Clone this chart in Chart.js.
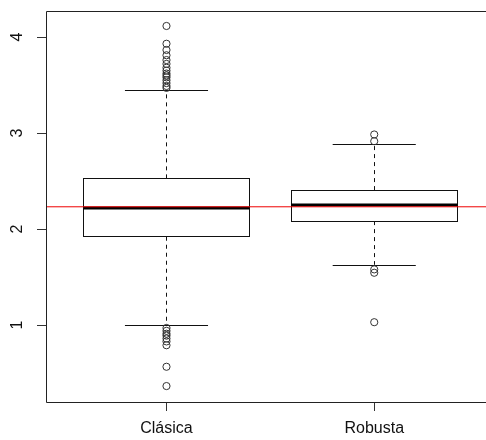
<!DOCTYPE html>
<html>
<head>
<meta charset="utf-8">
<script src="https://cdn.jsdelivr.net/npm/chart.js@4.4.1/dist/chart.umd.min.js"></script>
<style>
  html, body { margin: 0; padding: 0; background: #fff; overflow: hidden; }
  #wrap { width: 486px; height: 440px; overflow: hidden; }
  canvas { display: block; }
</style>
</head>
<body>
<div id="wrap"><canvas id="c" width="486" height="440"></canvas></div>
<script>
// Box summaries for the two estimators
const categories   = ['Clásica', 'Robusta'];
const whiskerLow   = [1.00, 1.628];
const quartile1    = [1.92, 2.083];
const medians      = [2.219, 2.25];
const quartile3    = [2.528, 2.406];
const whiskerHigh  = [3.445, 2.885];
const outliersClasica = [4.115, 3.93, 3.865, 3.81, 3.76, 3.72, 3.68, 3.65, 3.62, 3.60, 3.58, 3.55, 3.52, 3.49, 3.47,
                         0.97, 0.94, 0.91, 0.89, 0.86, 0.83, 0.79, 0.566, 0.365];
const outliersRobusta = [2.985, 2.915, 1.58, 1.545, 1.03];
const referenceValue = 2.232;
const yTicks = [1, 2, 3, 4];
const xRange = [0.42, 2.538];
const yRange = [0.199, 4.271];

const FONT = '"Liberation Sans", Arial, Helvetica, sans-serif';

const outlierPoints = [];
outliersClasica.forEach(v => outlierPoints.push({ x: 1, y: v }));
outliersRobusta.forEach(v => outlierPoints.push({ x: 2, y: v }));

const boxPlugin = {
  id: 'boxes',
  beforeDatasetsDraw(chart) {
    const { ctx, scales: { x, y } } = chart;
    ctx.save();
    categories.forEach((name, i) => {
      const pos = i + 1;
      const xl = x.getPixelForValue(pos - 0.4);
      const xr = x.getPixelForValue(pos + 0.4);
      const xc = x.getPixelForValue(pos);
      const cl = x.getPixelForValue(pos - 0.2);
      const cr = x.getPixelForValue(pos + 0.2);
      const yq1 = y.getPixelForValue(quartile1[i]);
      const yq3 = y.getPixelForValue(quartile3[i]);
      const ymed = y.getPixelForValue(medians[i]);
      const ylo = y.getPixelForValue(whiskerLow[i]);
      const yhi = y.getPixelForValue(whiskerHigh[i]);

      // dashed whiskers
      ctx.strokeStyle = '#111';
      ctx.lineWidth = 1;
      ctx.setLineDash([4, 4]);
      ctx.beginPath();
      ctx.moveTo(Math.round(xc) + 0.5, yq3);
      ctx.lineTo(Math.round(xc) + 0.5, yhi);
      ctx.moveTo(Math.round(xc) + 0.5, yq1);
      ctx.lineTo(Math.round(xc) + 0.5, ylo);
      ctx.stroke();
      ctx.setLineDash([]);

      // whisker caps
      ctx.beginPath();
      ctx.moveTo(cl, Math.round(yhi) + 0.5);
      ctx.lineTo(cr, Math.round(yhi) + 0.5);
      ctx.moveTo(cl, Math.round(ylo) + 0.5);
      ctx.lineTo(cr, Math.round(ylo) + 0.5);
      ctx.stroke();

      // box
      ctx.fillStyle = '#fff';
      ctx.fillRect(xl, yq3, xr - xl, yq1 - yq3);
      ctx.strokeStyle = '#111';
      ctx.strokeRect(Math.round(xl) + 0.5, Math.round(yq3) + 0.5, Math.round(xr - xl), Math.round(yq1 - yq3));

      // median
      ctx.lineWidth = 3;
      ctx.strokeStyle = '#000';
      ctx.beginPath();
      ctx.moveTo(xl, ymed);
      ctx.lineTo(xr, ymed);
      ctx.stroke();
    });
    ctx.restore();
  },
  afterDraw(chart) {
    const { ctx, scales: { y }, chartArea } = chart;
    ctx.save();
    // plot frame
    ctx.strokeStyle = '#222';
    ctx.lineWidth = 1;
    ctx.beginPath();
    ctx.moveTo(chartArea.right + 2, Math.round(chartArea.top) + 0.5);
    ctx.lineTo(Math.round(chartArea.left) + 0.5, Math.round(chartArea.top) + 0.5);
    ctx.lineTo(Math.round(chartArea.left) + 0.5, Math.round(chartArea.bottom) + 0.5);
    ctx.lineTo(chartArea.right + 2, Math.round(chartArea.bottom) + 0.5);
    ctx.stroke();
    // rotated y tick labels
    ctx.fillStyle = '#111';
    ctx.font = '16px ' + FONT;
    ctx.textAlign = 'center';
    ctx.textBaseline = 'middle';
    yTicks.forEach(v => {
      const py = y.getPixelForValue(v);
      ctx.save();
      ctx.translate(18, py);
      ctx.rotate(-Math.PI / 2);
      ctx.fillText(String(v), 0, 0);
      ctx.restore();
    });
    ctx.restore();
  }
};

new Chart(document.getElementById('c'), {
  type: 'scatter',
  data: {
    datasets: [{
      label: 'outliers',
      data: outlierPoints,
      pointStyle: 'circle',
      pointRadius: 3.6,
      pointHoverRadius: 3.6,
      pointBorderWidth: 1,
      borderColor: '#333',
      backgroundColor: 'rgba(0,0,0,0)',
      order: 1
    }, {
      // horizontal reference level across the plot
      type: 'line',
      label: 'reference',
      data: [{ x: xRange[0], y: referenceValue }, { x: xRange[1], y: referenceValue }],
      borderColor: '#ee0000',
      borderWidth: 1,
      pointRadius: 0,
      fill: false,
      order: 0
    }]
  },
  options: {
    responsive: false,
    animation: false,
    events: [],
    layout: { autoPadding: false, padding: { top: 11, right: 0, left: 0, bottom: 0 } },
    plugins: { legend: { display: false }, tooltip: { enabled: false } },
    scales: {
      x: {
        type: 'linear',
        min: xRange[0],
        max: xRange[1],
        afterBuildTicks: s => { s.ticks = categories.map((_, i) => ({ value: i + 1 })); },
        afterFit: s => { s.height = 38; s.paddingLeft = 0; s.paddingRight = 0; },
        border: { display: false },
        grid: { display: true, drawOnChartArea: false, drawTicks: true, tickLength: 9, color: '#333' },
        ticks: {
          callback: v => categories[v - 1],
          color: '#111',
          font: { size: 16, family: FONT },
          padding: 8,
          maxRotation: 0
        }
      },
      y: {
        type: 'linear',
        min: yRange[0],
        max: yRange[1],
        afterBuildTicks: s => { s.ticks = yTicks.map(v => ({ value: v })); },
        afterFit: s => { s.width = 46; s.paddingTop = 0; s.paddingBottom = 0; },
        border: { display: false },
        grid: { display: true, drawOnChartArea: false, drawTicks: true, tickLength: 9, color: '#333' },
        ticks: { display: false }
      }
    }
  },
  plugins: [boxPlugin]
});
</script>
</body>
</html>
